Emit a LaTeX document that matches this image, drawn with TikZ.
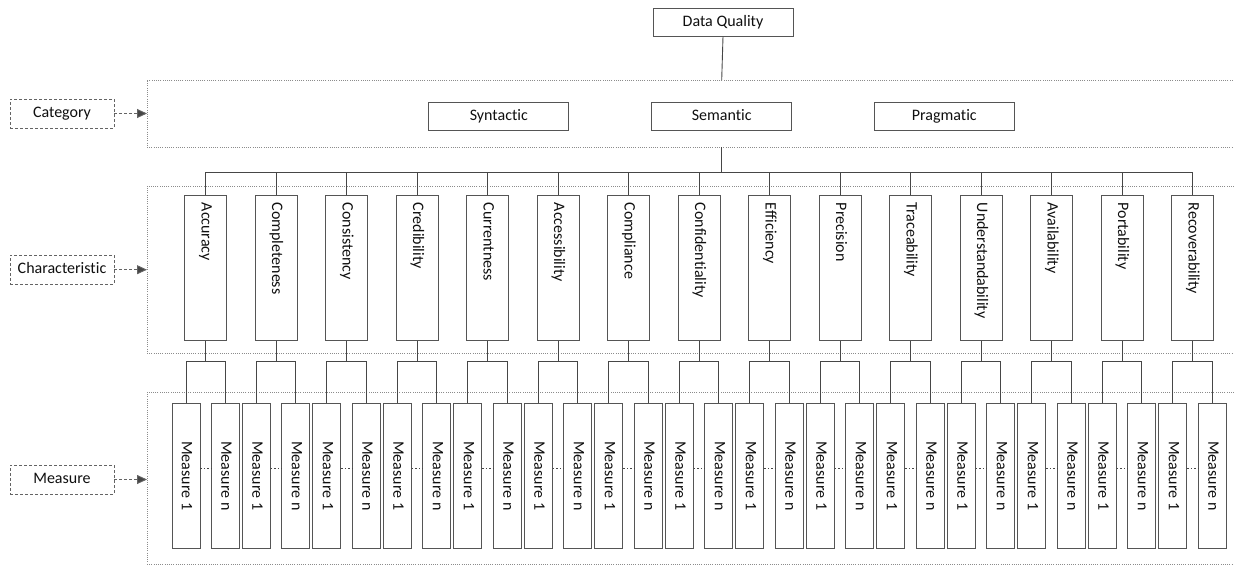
\documentclass[tikz,border=0pt]{standalone}
\usepackage{fontspec}
\setmainfont[Ligatures=NoCommon]{Carlito}
\usetikzlibrary{arrows.meta}
\definecolor{boxgray}{RGB}{85,85,85}
\definecolor{linegray}{RGB}{70,70,70}
\definecolor{labgray}{RGB}{100,100,100}
\definecolor{bandgray}{RGB}{140,140,140}
\definecolor{txt}{RGB}{15,15,15}
\begin{document}
\begin{tikzpicture}[x=1pt,y=-1pt,
  font=\fontsize{16}{19}\selectfont, text=txt,
  catbox/.style={draw=boxgray, line width=0.9pt, minimum width=140pt, minimum height=28pt, inner sep=0pt, text height=11pt, text depth=3pt},
  charbox/.style={draw=boxgray, line width=0.9pt, rotate=-90, minimum height=42pt, text width=131pt, inner xsep=7pt, inner ysep=0pt, align=left, text height=11pt, text depth=3pt},
  measbox/.style={draw=boxgray, line width=0.9pt, rotate=-90, minimum width=145pt, minimum height=28pt, inner sep=0pt, text height=11pt, text depth=3pt},
  labbox/.style={draw=labgray, line width=0.9pt, dash pattern=on 3pt off 2pt, minimum width=104pt, minimum height=29pt, inner sep=0pt, text height=11pt, text depth=3pt},
  labarrow/.style={draw=labgray, line width=0.9pt, dash pattern=on 3pt off 2pt, -{Triangle[length=10pt,width=9pt,fill=linegray]}},
  band/.style={draw=bandgray, line width=0.7pt, dash pattern=on 1pt off 1.2pt, inner sep=0pt, outer sep=0pt, anchor=north west},
  conn/.style={draw=linegray, line width=0.9pt},
  dotconn/.style={draw=linegray, line width=1pt, dash pattern=on 1.5pt off 2pt}
]
\useasboundingbox (0,0) rectangle (1234,565);

% bands
\node[band, minimum width=1110pt, minimum height=67pt] (b1) at (147,80) {};
\node[band, minimum width=1110pt, minimum height=167.3pt] (b2) at (147,186) {};
\node[band, minimum width=1110pt, minimum height=171.7pt] (b3) at (147,392.3) {};

% left labels
\node[labbox] (lcat) at (62,113.5) {Category};
\node[labbox] (lchar) at (62,269.7) {Characteristic};
\node[labbox] (lmeas) at (62,479.5) {Measure};
\draw[labarrow] (lcat) -- (lcat -| b1.west);
\draw[labarrow] (lchar) -- (lchar -| b2.west);
\draw[labarrow] (lmeas) -- (lmeas -| b3.west);

% top
\node[catbox] (dq) at (723,22) {Data Quality};
\node[catbox] (syn) at (498.8,116.7) {Syntactic};
\node[catbox] (sem) at (721.7,116.7) {Semantic};
\node[catbox] (prag) at (944.3,116.7) {Pragmatic};
\draw[conn] (dq.south) -- (sem |- b1.north);
\coordinate (bus) at (0,172);
\draw[conn] (sem |- b1.south) -- (sem |- bus);

% characteristics and measures
\foreach \name [count=\i from 0] in {Accuracy,Completeness,Consistency,Credibility,Currentness,Accessibility,Compliance,Confidentiality,Efficiency,Precision,Traceability,Understandability,Availability,Portability,Recoverability}{
  \pgfmathsetmacro{\cx}{205.7+70.49*\i}
  \node[charbox] (c\i) at (\cx,268.25) {\name};
  \node[measbox] (ma\i) at (\cx-19.75,475.8) {Measure 1};
  \node[measbox] (mb\i) at (\cx+19.75,475.8) {Measure n};
  \draw[conn] (c\i.west) -- (c\i.west |- bus);
  \coordinate (f\i) at (\cx,361.7);
  \draw[conn] (c\i.east) -- (f\i);
  \draw[conn] (ma\i.west) |- (f\i) -| (mb\i.west);
  \draw[dotconn] ([yshift=7.5pt]ma\i.north) -- ([yshift=7.5pt]mb\i.south);
}
\draw[conn] (c0.west |- bus) -- (c14.west |- bus);
\end{tikzpicture}
\end{document}
